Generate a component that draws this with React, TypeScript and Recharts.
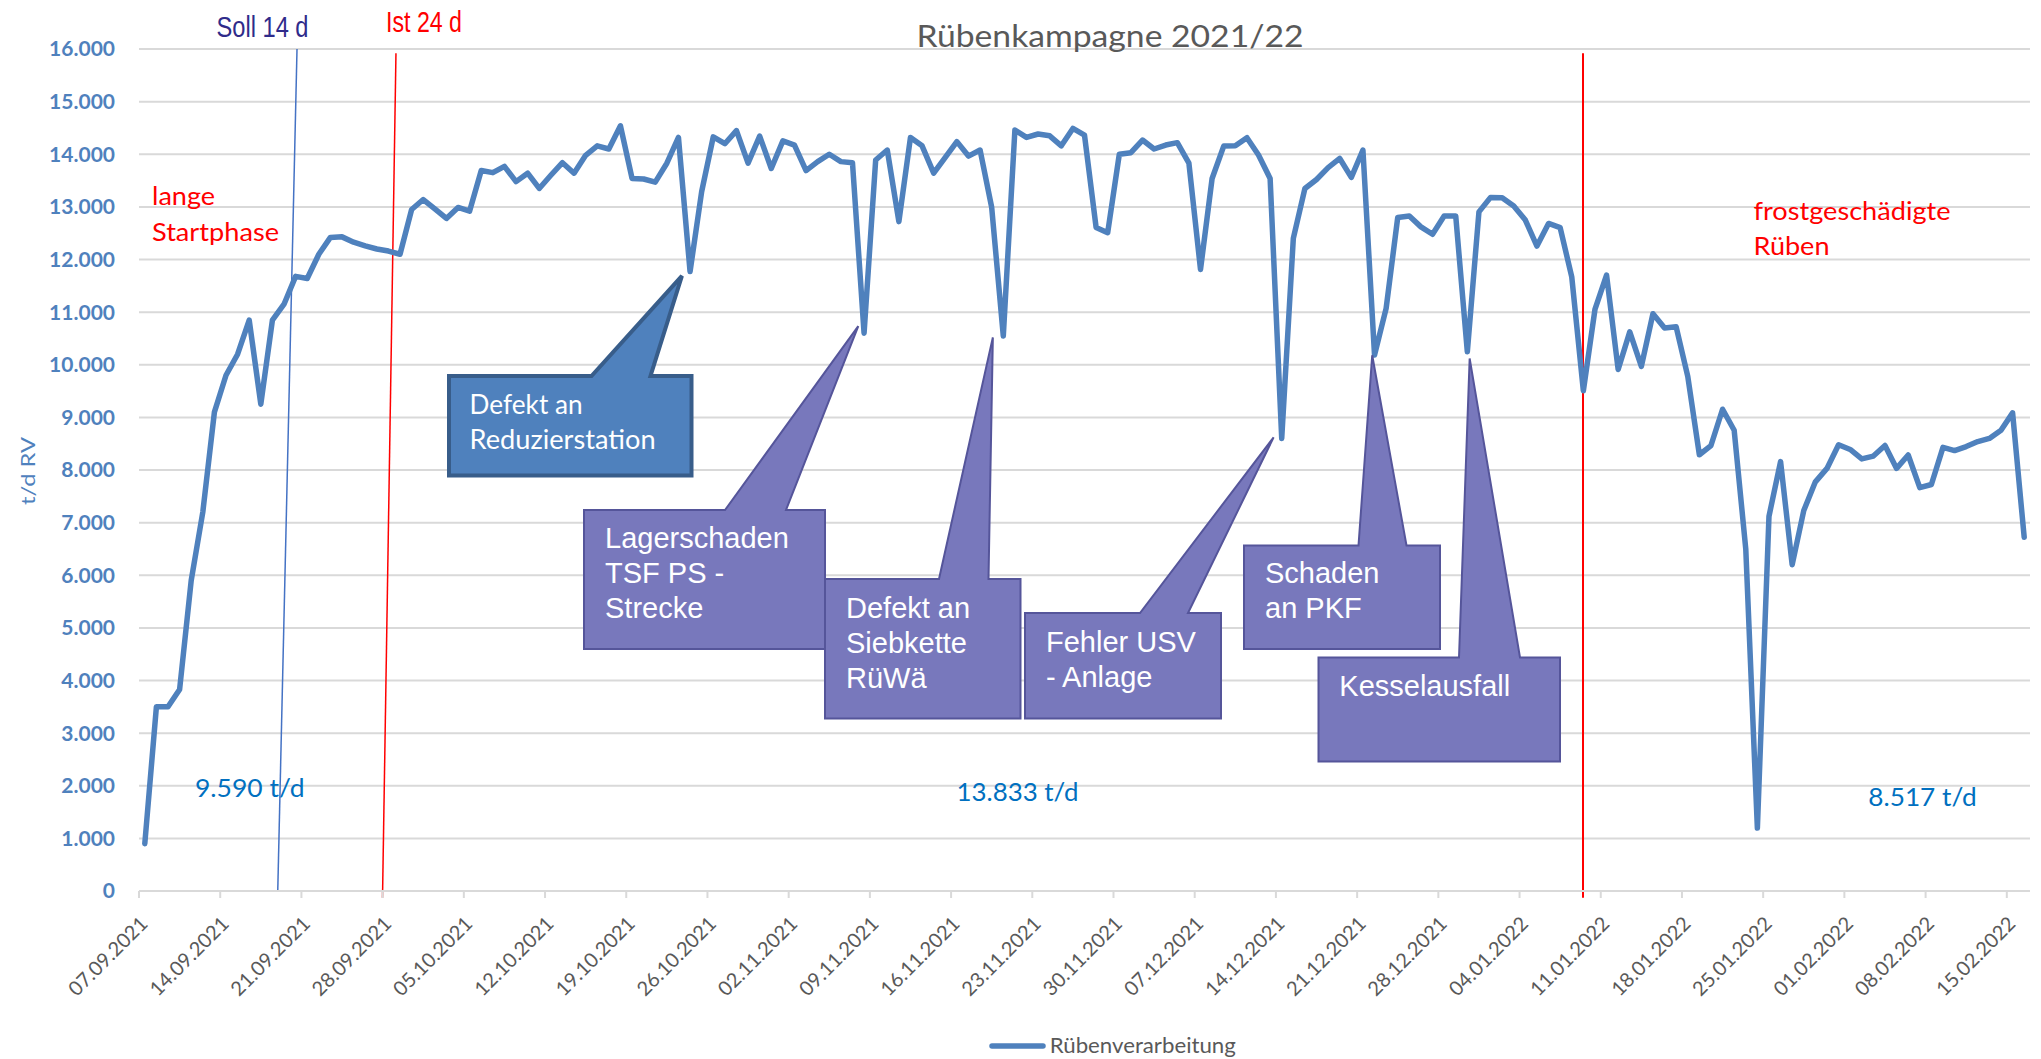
import { LineChart, Line, XAxis, YAxis, CartesianGrid, ReferenceLine } from "recharts";

// daily beet throughput (t/d RV), one value per day from 07.09.2021 to 16.02.2022
const throughput = [
  900, 3500, 3500, 3830, 5900, 7200, 9100, 9800, 10200, 10850,
  9250, 10850, 11150, 11680, 11640, 12100, 12420, 12430, 12330, 12260,
  12200, 12160, 12100, 12950, 13140, 12960, 12780, 12990, 12920, 13690,
  13650, 13770, 13480, 13640, 13350, 13600, 13840, 13640, 13980, 14160,
  14100, 14540, 13540, 13530, 13470, 13830, 14320, 11770, 13290, 14330,
  14200, 14450, 13830, 14345, 13730, 14255, 14175, 13690, 13860, 14000,
  13860, 13840, 10600, 13890, 14080, 12720, 14320, 14160, 13640, 13940,
  14240, 13965, 14080, 12990, 10545, 14460, 14320, 14385, 14350, 14160,
  14490, 14365, 12610, 12510, 14000, 14030, 14270, 14100, 14175, 14220,
  13830, 11810, 13540, 14155, 14160, 14315, 13985, 13540, 8600, 12400,
  13350, 13520, 13745, 13920, 13560, 14080, 10185, 11070, 12800, 12825,
  12620, 12480, 12825, 12825, 10245, 12905, 13180, 13175, 13015, 12750,
  12255, 12685, 12605, 11670, 9505, 11050, 11705, 9910, 10625, 9970,
  10970, 10700, 10720, 9780, 8290, 8465, 9155, 8755, 6500, 1195,
  7120, 8160, 6200, 7230, 7775, 8030, 8480, 8390, 8210, 8265,
  8465, 8030, 8285, 7665, 7725, 8430, 8370, 8445, 8540, 8600,
  8755, 9085, 6720,
];

const weekLabels = [
  "07.09.2021", "14.09.2021", "21.09.2021", "28.09.2021", "05.10.2021", "12.10.2021",
  "19.10.2021", "26.10.2021", "02.11.2021", "09.11.2021", "16.11.2021", "23.11.2021",
  "30.11.2021", "07.12.2021", "14.12.2021", "21.12.2021", "28.12.2021", "04.01.2022",
  "11.01.2022", "18.01.2022", "25.01.2022", "01.02.2022", "08.02.2022", "15.02.2022",
];

const yTicks = [0, 1000, 2000, 3000, 4000, 5000, 6000, 7000, 8000, 9000, 10000, 11000, 12000, 13000, 14000, 15000, 16000];

const averageLabels = ["9.590 t/d", "13.833 t/d", "8.517 t/d"];

const calloutTexts = [
  ["Defekt an", "Reduzierstation"],
  ["Lagerschaden", "TSF PS -", "Strecke"],
  ["Defekt an", "Siebkette", "RüWä"],
  ["Fehler USV", "- Anlage"],
  ["Schaden", "an PKF"],
  ["Kesselausfall"],
];

// tip of each callout, in (day, t/d)
const calloutTips = [
  [46.3, 11690],
  [61.5, 10735],
  [73.1, 10520],
  [97.3, 8620],
  [105.8, 10180],
  [114.2, 10120],
];

const data = throughput.map((v, d) => ({ d, v }));

const W = 2041;
const H = 1059;
const PLOT = { left: 139, top: 49, right: 2030, bottom: 891 };
const X_MIN = -0.5;
const X_MAX = throughput.length - 0.5;
const Y_MAX = 16000;

const xOf = (d: number) => PLOT.left + ((d - X_MIN) / (X_MAX - X_MIN)) * (PLOT.right - PLOT.left);
const yOf = (v: number) => PLOT.bottom - (v / Y_MAX) * (PLOT.bottom - PLOT.top);

const weekTicks = weekLabels.map((_, i) => i * 7 - 0.5);

const BLUE = "#4F81BD";
const GRAY = "#595959";
const GRID = "#D9D9D9";
const PURPLE = "#7878BC";
const PURPLE_EDGE = "#55559A";
const CAL = "Lato, 'Open Sans', sans-serif";
const ARIAL = "'Liberation Sans', Arial, sans-serif";
const NARROW = "'Liberation Sans Narrow', 'Liberation Sans', sans-serif";

const fmt = (v: number) => String(v).replace(/\B(?=(\d{3})+(?!\d))/g, ".");

function DateTick({ x, y, payload }: any) {
  const label = weekLabels[Math.round((payload.value + 0.5) / 7)];
  const ax = x + 10;
  const ay = y + 25;
  return (
    <text
      x={ax}
      y={ay}
      textAnchor="end"
      transform={`rotate(-45, ${ax}, ${ay})`}
      fill={GRAY}
      fontFamily={CAL}
      fontSize={20}
    >
      {label}
    </text>
  );
}

type Box = { x1: number; y1: number; x2: number; y2: number; b1: number; b2: number };

// box corners and the two points where the pointer leaves the top edge
const calloutBoxes: Box[] = [
  { x1: 449, y1: 376, x2: 691.5, y2: 475.5, b1: 591.5, b2: 650.5 },
  { x1: 584, y1: 510, x2: 825, y2: 649, b1: 725, b2: 786 },
  { x1: 825, y1: 579, x2: 1020.5, y2: 718.5, b1: 939, b2: 988.5 },
  { x1: 1025, y1: 613, x2: 1221, y2: 718.5, b1: 1140, b2: 1188 },
  { x1: 1244, y1: 545.5, x2: 1440, y2: 649, b1: 1358.5, b2: 1406.5 },
  { x1: 1318.5, y1: 657.5, x2: 1560, y2: 761.5, b1: 1459, b2: 1520 },
];

const calloutTextPos = [
  { x: 469.6, y: [414, 448.5] },
  { x: 605, y: [548.3, 582.7, 618.3] },
  { x: 846, y: [618.3, 653.3, 687.7] },
  { x: 1046, y: [651.7, 686.7] },
  { x: 1265, y: [583.3, 618.3] },
  { x: 1339.3, y: [695.7] },
];

function Callout({ i }: { i: number }) {
  const b = calloutBoxes[i];
  const [td, tv] = calloutTips[i];
  const tx = xOf(td);
  const ty = yOf(tv);
  const first = i === 0;
  const path = `M${b.x1},${b.y1} L${b.b1},${b.y1} L${tx},${ty} L${b.b2},${b.y1} L${b.x2},${b.y1} L${b.x2},${b.y2} L${b.x1},${b.y2} Z`;
  const pos = calloutTextPos[i];
  return (
    <g>
      <path
        d={path}
        fill={first ? BLUE : PURPLE}
        stroke={first ? "#385D8A" : PURPLE_EDGE}
        strokeWidth={first ? 4 : 2}
        strokeLinejoin="miter"
      />
      {calloutTexts[i].map((t, k) =>
        first ? (
          <text
            key={k}
            x={pos.x}
            y={pos.y[k]}
            fill="#fff"
            fontFamily={CAL}
            fontSize={26}
            textLength={k === 0 ? 113 : 186}
            lengthAdjust="spacingAndGlyphs"
          >
            {t}
          </text>
        ) : (
          <text key={k} x={pos.x} y={pos.y[k]} fill="#fff" fontFamily={ARIAL} fontSize={29}>
            {t}
          </text>
        )
      )}
    </g>
  );
}

function Overlay() {
  return (
    <svg
      width={W}
      height={H}
      style={{ position: "absolute", left: 0, top: 0, pointerEvents: "none" }}
    >
      <text x={1110} y={47} textAnchor="middle" fill={GRAY} fontFamily={CAL} fontSize={31} textLength={387} lengthAdjust="spacingAndGlyphs">
        Rübenkampagne 2021/22
      </text>

      <text x={35} y={471} transform="rotate(-90, 35, 471)" textAnchor="middle" fill={BLUE} fontFamily={CAL} fontSize={20} textLength={68} lengthAdjust="spacingAndGlyphs">
        t/d RV
      </text>

      <text x={216.5} y={36.7} fill="#2F2B8A" fontFamily={NARROW} fontSize={29} textLength={92} lengthAdjust="spacingAndGlyphs">
        Soll 14 d
      </text>
      <text x={386} y={31.7} fill="#FF0000" fontFamily={NARROW} fontSize={29} textLength={76} lengthAdjust="spacingAndGlyphs">
        Ist 24 d
      </text>

      <text x={152} y={205} fill="#FF0000" fontFamily={CAL} fontSize={25} textLength={63} lengthAdjust="spacingAndGlyphs">
        lange
      </text>
      <text x={152} y={240.5} fill="#FF0000" fontFamily={CAL} fontSize={25} textLength={127} lengthAdjust="spacingAndGlyphs">
        Startphase
      </text>
      <text x={1753.5} y={220} fill="#FF0000" fontFamily={CAL} fontSize={25} textLength={197} lengthAdjust="spacingAndGlyphs">
        frostgeschädigte
      </text>
      <text x={1753.5} y={255} fill="#FF0000" fontFamily={CAL} fontSize={25} textLength={76} lengthAdjust="spacingAndGlyphs">
        Rüben
      </text>

      <text x={195} y={796.7} fill="#0070C0" fontFamily={CAL} fontSize={25} textLength={109.5} lengthAdjust="spacingAndGlyphs">
        {averageLabels[0]}
      </text>
      <text x={956.6} y={800.5} fill="#0070C0" fontFamily={CAL} fontSize={25} textLength={122} lengthAdjust="spacingAndGlyphs">
        {averageLabels[1]}
      </text>
      <text x={1868.3} y={806} fill="#0070C0" fontFamily={CAL} fontSize={25} textLength={108.5} lengthAdjust="spacingAndGlyphs">
        {averageLabels[2]}
      </text>

      {calloutBoxes.map((_, i) => (
        <Callout key={i} i={i} />
      ))}

      {/* legend */}
      <line x1={992} y1={1046} x2={1043} y2={1046} stroke={BLUE} strokeWidth={5.5} strokeLinecap="round" />
      <text x={1049.8} y={1052.7} fill={GRAY} fontFamily={CAL} fontSize={21} textLength={186} lengthAdjust="spacingAndGlyphs">
        Rübenverarbeitung
      </text>
    </svg>
  );
}

export default function App() {
  return (
    <div style={{ position: "absolute", left: 0, top: 0, width: W, height: H, background: "#fff" }}>
      <LineChart width={W} height={H} data={data} margin={{ top: 49, right: 11, bottom: 48, left: 0 }}>
        <CartesianGrid vertical={false} stroke={GRID} strokeWidth={2} />
        <XAxis
          dataKey="d"
          type="number"
          domain={[X_MIN, X_MAX]}
          ticks={weekTicks}
          interval={0}
          height={120}
          axisLine={{ stroke: GRID, strokeWidth: 2 }}
          tickLine={{ stroke: GRID, strokeWidth: 2 }}
          tickSize={7}
          tick={<DateTick />}
        />
        <YAxis
          domain={[0, Y_MAX]}
          ticks={yTicks}
          width={139}
          axisLine={false}
          tickLine={false}
          tickMargin={18}
          tickFormatter={fmt}
          tick={{ fill: BLUE, fontSize: 21, fontWeight: 700, fontFamily: CAL }}
        />
        <ReferenceLine
          segment={[{ x: 13.12, y: 16000 }, { x: 11.46, y: 0 }]}
          stroke="#4472C4"
          strokeWidth={1.5}
          ifOverflow="visible"
        />
        <ReferenceLine
          segment={[{ x: 21.65, y: 15920 }, { x: 20.49, y: -130 }]}
          stroke="#FF0000"
          strokeWidth={1.5}
          ifOverflow="visible"
        />
        <ReferenceLine
          segment={[{ x: 123.97, y: 15920 }, { x: 123.97, y: -130 }]}
          stroke="#FF0000"
          strokeWidth={2}
          ifOverflow="visible"
        />
        <Line
          type="linear"
          dataKey="v"
          stroke={BLUE}
          strokeWidth={5.5}
          dot={false}
          strokeLinejoin="round"
          strokeLinecap="round"
          isAnimationActive={false}
        />
      </LineChart>
      <Overlay />
    </div>
  );
}
